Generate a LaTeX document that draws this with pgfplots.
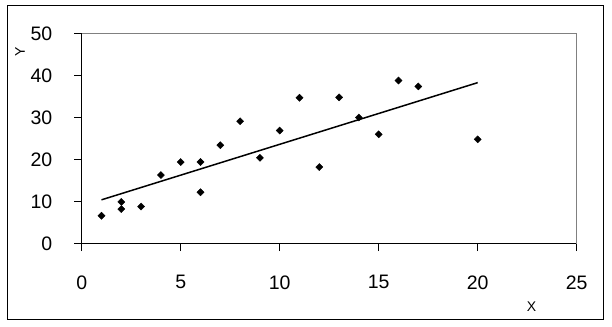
\documentclass[border=0pt]{standalone}
\usepackage{fontspec}
\setmainfont{Liberation Sans}
\usepackage{pgfplots}
\pgfplotsset{compat=1.18}
\begin{document}
\begin{tikzpicture}
\useasboundingbox (0,0) rectangle (612bp,327bp);
\fill[white] (0,0) rectangle (612bp,327bp);
\draw[black, line width=1bp] (7.3bp,7.7bp) rectangle (603.3bp,321bp);
\begin{axis}[
  at={(81.7bp,83.5bp)}, anchor=south west,
  scale only axis, width=495bp, height=210bp,
  xmin=0, xmax=25, ymin=0, ymax=50,
  xtick={0,5,...,25}, ytick={0,10,...,50},
  axis x line*=bottom, axis y line*=left,
  axis line style={-, line width=1bp, black},
  tick align=outside, major tick length=7.5bp,
  tick style={black, line width=1bp},
  ticklabel style={font=\fontsize{19.5bp}{22bp}\selectfont, inner sep=0pt},
  xticklabel style={anchor=north, yshift=-24.3bp},
  yticklabel style={anchor=east, xshift=-21.7bp},
  /pgf/number format/assume math mode=true,
  xlabel={X}, ylabel={Y},
  label style={font=\fontsize{14bp}{16bp}\selectfont},
  xlabel style={at={(axis description cs:0.909,-0.3)}, anchor=center},
  ylabel style={at={(axis description cs:-0.1245,0.913)}, anchor=center},
  clip=false,
]
\draw[gray, line width=1bp] (rel axis cs:0,1) -- (rel axis cs:1,1) -- (rel axis cs:1,0);
\addplot[only marks, mark=square*, mark options={rotate=45, fill=black, draw=black}, mark size=2.5bp]
  coordinates {
  (1,6.6) (2,9.9) (2,8.2) (3,8.8) (4,16.3) (5,19.4) (6,19.4) (6,12.2)
  (7,23.4) (8,29.1) (9,20.4) (10,26.9) (11,34.7) (12,18.2) (13,34.8)
  (14,30.0) (15,26.0) (16,38.8) (17,37.4) (20,24.8)
  };
\addplot[black, line width=1.5bp] coordinates {(1,10.4) (20,38.3)};
\end{axis}
\end{tikzpicture}
\end{document}
